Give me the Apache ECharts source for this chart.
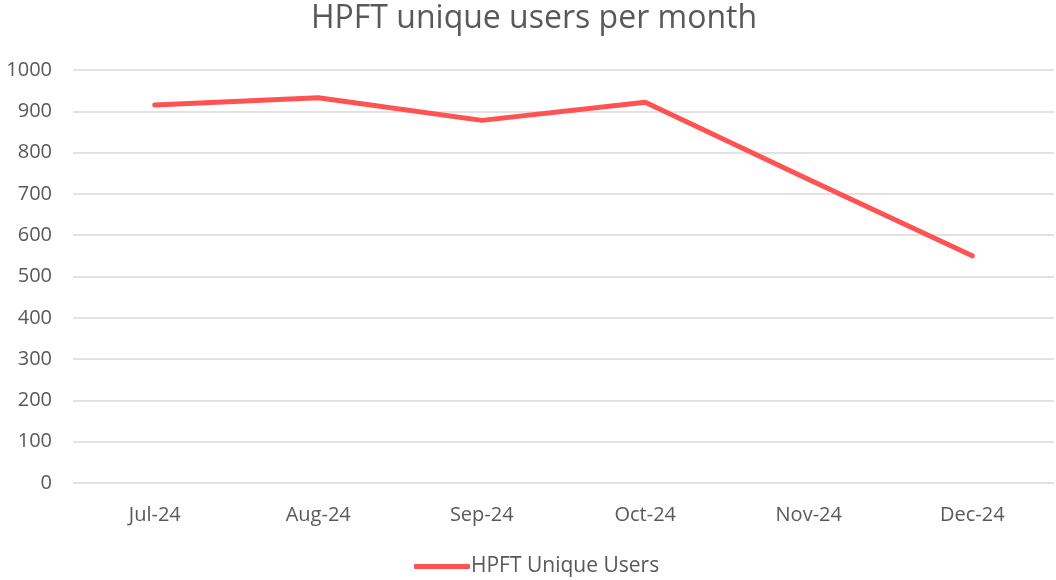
<!DOCTYPE html>
<html>
<head>
<meta charset="utf-8">
<script src="https://cdn.jsdelivr.net/npm/echarts@6/dist/echarts.min.js"></script>
<style>
  html, body { margin: 0; padding: 0; background: #fff; }
  #chart { width: 1056px; height: 580px; }
</style>
</head>
<body>
<div id="chart"></div>
<script>
const months = ['Jul-24', 'Aug-24', 'Sep-24', 'Oct-24', 'Nov-24', 'Dec-24']
const uniqueUsers = [915, 933, 878, 922, 735, 550]
const seriesName = 'HPFT Unique Users'
const titleText = 'HPFT unique users per month'

const textColor = '#595959'
const font = 'Open Sans'

const chart = echarts.init(document.getElementById('chart'))
chart.setOption({
  animation: false,
  title: {
    text: titleText,
    left: 306,
    top: -2,
    textStyle: { fontFamily: font, fontSize: 32, fontWeight: 'normal', color: textColor },
  },
  grid: { left: 73, right: 2, top: 70, bottom: 97 },
  xAxis: {
    type: 'category',
    data: months,
    boundaryGap: true,
    axisLine: { show: false },
    axisTick: { show: false },
    axisLabel: { fontFamily: font, fontSize: 20, color: textColor, margin: 22 },
  },
  yAxis: {
    type: 'value',
    min: 0,
    max: 1000,
    interval: 100,
    axisLabel: { fontFamily: font, fontSize: 20, color: textColor, margin: 21, formatter: v => String(v) },
    splitLine: { lineStyle: { color: '#d9d9d9', width: 1.5 } },
  },
  legend: {
    bottom: -2,
    left: 409,
    itemWidth: 56,
    itemHeight: 5,
    itemGap: 4,
    icon: 'roundRect',
    textStyle: { fontFamily: font, fontSize: 21, color: textColor, padding: [0, 0, 0, -4] },
    data: [seriesName],
  },
  series: [
    {
      name: seriesName,
      type: 'line',
      data: uniqueUsers,
      showSymbol: false,
      symbol: 'none',
      lineStyle: { color: '#ff5252', width: 5, cap: 'round', join: 'round' },
      itemStyle: { color: '#ff5252' },
    },
  ],
})
</script>
</body>
</html>
